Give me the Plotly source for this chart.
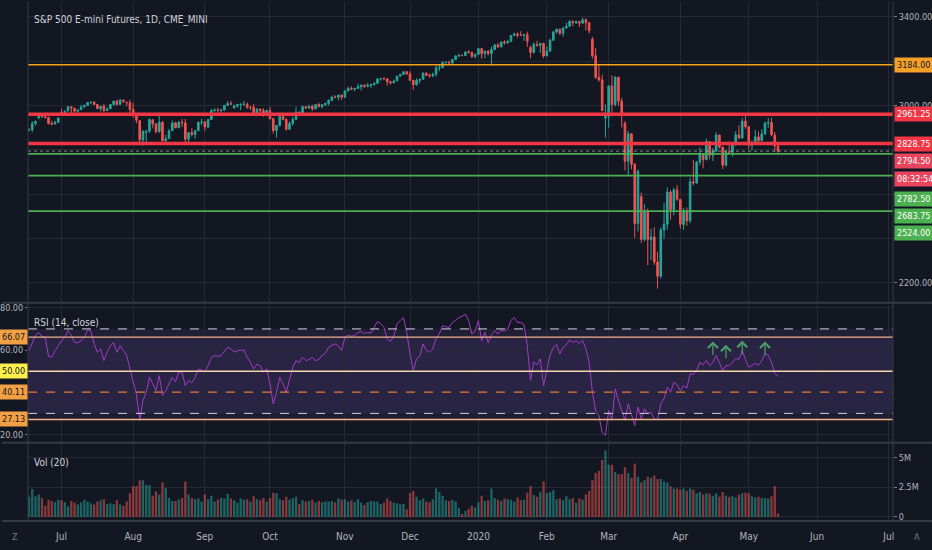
import pandas as pd
import plotly.graph_objects as go

# --- data (CME_MINI:ES1!, daily) ---
holidays = ["2019-07-04", "2019-09-02", "2019-11-28", "2019-12-25",
            "2020-01-01", "2020-01-20", "2020-02-17", "2020-04-10"]
dates = [d.strftime("%Y-%m-%d") for d in pd.bdate_range("2019-06-17", "2020-05-14")
         if d.strftime("%Y-%m-%d") not in holidays]

opens = [
    2889, 2891, 2920, 2945, 2954, 2950, 2946, 2920, 2917, 2925,  # jun
    2970, 2968, 2976, 2995, 2988, 2975, 2982, 2995, 3000, 3014, 3015, 3005, 2986, 2998, 2978, 2986, 3005, 3020, 3006, 3025, 3015, 3013,  # jul
    2982, 2953, 2932, 2845, 2880, 2885, 2936, 2918, 2883, 2925, 2841, 2851, 2887, 2922, 2900, 2925, 2922, 2848, 2878, 2869, 2887, 2924,  # aug
    2926, 2903, 2937, 2977, 2980, 2978, 2981, 3001, 3009, 2990, 2998, 3005, 3006, 3006, 2992, 2992, 2966, 2984, 2977, 2961,  # sep
    2978, 2941, 2887, 2910, 2951, 2937, 2893, 2919, 2938, 2970, 2966, 2995, 2989, 2997, 2985, 3005, 2995, 3004, 3010, 3023, 3039, 3037, 3047,  # oct
    3038, 3066, 3078, 3074, 3077, 3085, 3093, 3087, 3091, 3095, 3101, 3120, 3122, 3121, 3108, 3103, 3111, 3133, 3141, 3153,  # nov
    3143, 3114, 3094, 3114, 3119, 3146, 3136, 3134, 3142, 3170, 3172, 3194, 3195, 3192, 3208, 3223, 3227, 3226, 3242, 3240, 3222,  # dec
    3231, 3257, 3234, 3246, 3235, 3253, 3274, 3265, 3287, 3283, 3289, 3316, 3323, 3318, 3317, 3320, 3262, 3240, 3276, 3272, 3280,  # jan
    3224, 3246, 3295, 3332, 3345, 3326, 3350, 3358, 3380, 3374, 3379, 3372, 3387, 3374, 3300, 3225, 3128, 3116, 2944,  # feb
    2951, 3088, 3005, 3128, 3020, 2920, 2749, 2873, 2735, 2468, 2590, 2396, 2524, 2395, 2407, 2294, 2230, 2439, 2465, 2610, 2530, 2620,  # mar
    2577, 2464, 2525, 2480, 2656, 2651, 2745, 2783, 2757, 2838, 2776, 2795, 2867, 2813, 2731, 2791, 2790, 2829, 2868, 2854, 2930,  # apr
    2905, 2821, 2834, 2859, 2841, 2872, 2921, 2924, 2866, 2818,  # may
]
highs = [
    2898, 2930, 2934, 2958, 2964, 2955, 2950, 2932, 2931, 2946,
    2987, 2977, 2996, 2997, 2990, 2983, 3003, 3005, 3016, 3019, 3020, 3008, 3000, 3008, 2992, 3006, 3021, 3026, 3028, 3026, 3017, 3027,
    3013, 2957, 2933, 2890, 2890, 2942, 2940, 2920, 2968, 2930, 2868, 2895, 2933, 2927, 2931, 2940, 2940, 2880, 2898, 2890, 2930, 2941,
    2930, 2940, 2986, 2988, 2990, 2984, 3003, 3021, 3021, 3005, 3006, 3010, 3022, 3015, 2999, 3007, 2989, 2987, 2988, 2983,
    2994, 2945, 2912, 2953, 2962, 2944, 2929, 2948, 2994, 2975, 3000, 2998, 3004, 3004, 3007, 3013, 3005, 3013, 3028, 3045, 3047, 3050, 3050,
    3069, 3085, 3087, 3080, 3098, 3094, 3094, 3102, 3098, 3105, 3122, 3125, 3128, 3122, 3112, 3117, 3134, 3143, 3154, 3155,
    3155, 3115, 3123, 3120, 3150, 3150, 3145, 3148, 3180, 3185, 3200, 3200, 3203, 3210, 3228, 3233, 3230, 3243, 3250, 3243, 3234,
    3259, 3260, 3247, 3248, 3267, 3276, 3282, 3288, 3295, 3297, 3317, 3329, 3330, 3336, 3324, 3333, 3270, 3285, 3292, 3284, 3285,
    3268, 3302, 3337, 3347, 3346, 3353, 3375, 3385, 3384, 3383, 3382, 3397, 3394, 3375, 3310, 3260, 3182, 3140, 3005,
    3092, 3137, 3132, 3130, 3034, 2930, 2885, 2876, 2740, 2712, 2607, 2555, 2536, 2445, 2452, 2341, 2451, 2562, 2631, 2618, 2630, 2641,
    2578, 2538, 2540, 2675, 2754, 2750, 2811, 2785, 2851, 2839, 2808, 2880, 2870, 2815, 2800, 2838, 2832, 2885, 2911, 2945, 2963,
    2906, 2843, 2890, 2884, 2893, 2928, 2944, 2945, 2880, 2830,
]
lows = [
    2884, 2880, 2910, 2938, 2947, 2942, 2915, 2912, 2915, 2921,
    2960, 2960, 2973, 2966, 2970, 2965, 2980, 2990, 2998, 3008, 3002, 2985, 2973, 2972, 2975, 2984, 2999, 3000, 3003, 3012, 2997, 2955,
    2945, 2920, 2822, 2820, 2823, 2876, 2897, 2873, 2877, 2839, 2825, 2849, 2886, 2898, 2898, 2903, 2834, 2830, 2860, 2850, 2884, 2912,
    2886, 2898, 2936, 2973, 2968, 2960, 2975, 2998, 3002, 2985, 2991, 2980, 3000, 2985, 2980, 2957, 2955, 2963, 2950, 2960,
    2937, 2874, 2855, 2906, 2934, 2888, 2890, 2910, 2936, 2960, 2963, 2985, 2985, 2975, 2983, 2992, 2988, 2998, 3000, 3020, 3033, 3023, 3025,
    3035, 3065, 3070, 3065, 3075, 3067, 3080, 3082, 3080, 3090, 3098, 3112, 3115, 3090, 3094, 3100, 3110, 3130, 3138, 3138,
    3110, 3070, 3090, 3100, 3117, 3133, 3126, 3128, 3130, 3155, 3168, 3190, 3190, 3188, 3206, 3220, 3222, 3225, 3235, 3215, 3212,
    3228, 3211, 3213, 3226, 3181, 3250, 3260, 3263, 3275, 3280, 3288, 3314, 3307, 3315, 3292, 3265, 3214, 3235, 3265, 3237, 3214,
    3222, 3243, 3292, 3325, 3318, 3310, 3347, 3356, 3358, 3368, 3355, 3368, 3340, 3325, 3212, 3120, 3108, 2974, 2855,
    2900, 2965, 2996, 2998, 2901, 2707, 2687, 2713, 2403, 2432, 2380, 2387, 2280, 2303, 2281, 2174, 2220, 2400, 2440, 2485, 2505, 2570,
    2445, 2440, 2457, 2470, 2640, 2646, 2731, 2717, 2752, 2758, 2750, 2790, 2806, 2713, 2725, 2779, 2770, 2820, 2848, 2850, 2895,
    2804, 2797, 2828, 2837, 2840, 2868, 2900, 2862, 2793, 2787,
]
closes = [
    2891, 2919, 2928, 2953, 2950, 2946, 2919, 2916, 2925, 2944,
    2968, 2975, 2995, 2990, 2975, 2980, 2993, 3000, 3014, 3015, 3005, 2986, 2996, 2977, 2985, 3005, 3020, 3005, 3026, 3020, 3013, 2982,
    2955, 2934, 2846, 2884, 2884, 2937, 2918, 2883, 2925, 2841, 2850, 2886, 2922, 2900, 2925, 2922, 2848, 2878, 2869, 2887, 2924, 2926,
    2903, 2937, 2977, 2980, 2978, 2981, 3001, 3009, 3007, 2998, 3005, 3006, 3006, 2992, 2992, 2966, 2984, 2977, 2961, 2978,
    2941, 2887, 2910, 2951, 2937, 2893, 2919, 2938, 2970, 2966, 2995, 2989, 2997, 2985, 3005, 2995, 3004, 3010, 3023, 3039, 3037, 3047, 3038,
    3066, 3078, 3074, 3077, 3085, 3093, 3087, 3091, 3095, 3101, 3120, 3122, 3121, 3108, 3103, 3111, 3133, 3141, 3153, 3143,
    3114, 3094, 3114, 3119, 3146, 3136, 3134, 3142, 3170, 3172, 3194, 3195, 3192, 3208, 3223, 3227, 3226, 3242, 3240, 3222, 3231,
    3257, 3234, 3246, 3235, 3253, 3274, 3265, 3287, 3283, 3289, 3316, 3323, 3318, 3317, 3320, 3290, 3240, 3276, 3272, 3280, 3224,
    3246, 3295, 3332, 3345, 3326, 3350, 3358, 3380, 3374, 3379, 3372, 3387, 3374, 3338, 3225, 3128, 3116, 2978, 2951,
    3088, 3005, 3128, 3020, 2958, 2749, 2873, 2735, 2468, 2704, 2396, 2524, 2395, 2407, 2294, 2230, 2439, 2465, 2610, 2530, 2620, 2577,
    2464, 2525, 2480, 2656, 2651, 2745, 2783, 2757, 2838, 2776, 2795, 2867, 2813, 2731, 2791, 2790, 2829, 2868, 2854, 2930, 2905,
    2821, 2834, 2859, 2841, 2872, 2921, 2924, 2869, 2818, 2794.5,
]
# volume, millions of contracts
volume_m = [
    1.70, 2.35, 1.75, 1.90, 1.60, 0.95, 1.45, 1.35, 1.25, 1.45,
    1.40, 1.25, 0.90, 1.35, 1.20, 1.05, 1.25, 1.45, 1.30, 1.15, 1.05, 1.30, 1.40, 1.50, 1.10, 1.15, 1.10, 1.40, 1.05, 0.95, 1.30, 2.00,
    2.60, 2.60, 3.10, 3.10, 2.70, 2.70, 1.80, 2.15, 1.90, 2.90, 2.45, 1.60, 1.35, 1.35, 1.50, 1.60, 3.00, 1.90, 1.60, 1.50, 1.55, 1.30,
    1.90, 1.50, 1.80, 1.30, 1.45, 1.60, 1.55, 1.95, 1.55, 1.40, 1.20, 1.55, 1.45, 1.50, 1.30, 1.75, 1.50, 1.40, 1.60, 1.30,
    1.60, 2.05, 2.00, 1.50, 1.40, 1.70, 1.45, 1.60, 1.70, 1.10, 1.40, 1.30, 1.35, 1.45, 1.20, 1.35, 1.25, 1.30, 1.30, 1.35, 1.25, 1.55, 1.45,
    1.50, 1.30, 1.40, 1.25, 1.50, 1.20, 1.00, 1.25, 1.35, 1.30, 1.30, 1.10, 1.20, 1.55, 1.35, 1.20, 1.15, 1.05, 1.10, 0.65,
    2.00, 2.20, 1.70, 1.40, 1.55, 1.30, 1.25, 1.50, 2.40, 2.10, 1.80, 1.40, 1.35, 1.45, 1.30, 0.75, 0.25, 0.50, 0.70, 0.95, 0.80,
    1.25, 1.80, 1.35, 1.40, 2.40, 1.60, 1.45, 1.35, 1.55, 1.50, 1.45, 1.30, 1.65, 1.40, 1.45, 2.05, 2.60, 1.85, 1.70, 2.10, 3.00,
    2.00, 2.10, 2.25, 1.50, 1.55, 1.40, 1.75, 1.50, 1.60, 1.20, 1.55, 1.45, 1.90, 2.20, 3.10, 3.70, 3.90, 4.80, 5.60,
    4.40, 4.40, 3.80, 3.60, 3.60, 4.20, 3.70, 3.30, 4.50, 3.40, 2.90, 3.10, 3.40, 3.30, 3.50, 3.20, 3.20, 3.00, 2.90, 2.60, 2.40, 2.40,
    2.30, 2.40, 2.20, 2.40, 2.30, 2.00, 2.10, 1.90, 2.00, 1.95, 1.80, 2.00, 1.70, 2.10, 1.80, 1.70, 1.75, 1.65, 1.90, 2.00, 2.05,
    2.00, 1.75, 1.65, 1.70, 1.60, 1.60, 1.55, 1.75, 2.60, 0.30,
]
rsi = [
    59.7, 63.0, 67.0, 68.3, 66.5, 66.0, 57.0, 56.6, 59.7, 62.0,
    64.4, 66.0, 69.2, 67.0, 63.6, 63.5, 64.4, 66.0, 69.5, 69.0, 63.0, 58.9, 60.6, 55.0, 59.0, 62.0, 63.6, 58.9, 62.1, 59.7, 57.5, 51.0,
    45.0, 39.0, 26.7, 36.1, 40.0, 47.1, 44.0, 40.8, 47.9, 38.5, 40.8, 44.0, 47.1, 45.0, 49.5, 49.5, 43.2, 45.6, 44.5, 47.0, 51.0, 50.5,
    49.5, 52.6, 56.5, 57.4, 57.0, 57.4, 59.5, 61.3, 60.5, 59.0, 59.7, 59.7, 60.0, 56.5, 54.2, 51.0, 53.4, 52.5, 49.5, 51.2,
    44.0, 34.6, 40.0, 47.1, 44.0, 40.0, 46.0, 51.8, 55.0, 54.0, 56.6, 55.0, 55.5, 56.6, 55.0, 55.5, 57.4, 58.5, 61.3, 62.0, 62.9, 62.0, 59.7,
    66.0, 67.0, 66.5, 67.0, 68.3, 68.8, 67.8, 68.3, 68.0, 70.5, 73.5, 72.5, 70.7, 65.2, 64.0, 66.5, 72.3, 74.0, 75.4, 68.3,
    58.0, 50.3, 55.8, 57.0, 62.9, 59.7, 59.0, 60.5, 65.5, 67.6, 71.5, 71.0, 70.7, 73.1, 74.0, 75.4, 76.0, 77.0, 74.0, 67.6, 69.0,
    73.9, 64.4, 68.3, 63.5, 67.0, 69.2, 67.6, 69.5, 69.0, 69.9, 74.0, 75.4, 73.1, 73.0, 72.0, 62.0, 45.6, 54.2, 53.0, 55.8, 43.2,
    50.0, 57.5, 61.3, 62.5, 58.2, 61.3, 62.5, 64.8, 63.5, 64.4, 63.0, 64.5, 60.5, 54.2, 40.0, 31.0, 29.0, 21.0, 19.6,
    31.4, 26.7, 41.6, 36.1, 31.4, 26.7, 34.6, 29.9, 24.3, 33.0, 27.5, 32.2, 29.9, 30.5, 27.5, 27.0, 34.6, 37.0, 42.4, 40.0, 44.8, 43.5,
    40.8, 43.2, 42.0, 48.7, 48.5, 50.3, 54.2, 53.0, 55.0, 52.5, 54.2, 57.4, 54.2, 50.3, 52.6, 52.6, 54.2, 56.0, 55.5, 59.7, 55.5,
    51.8, 52.6, 53.8, 52.8, 55.0, 58.2, 57.5, 54.0, 49.0, 47.5,
]
assert len(dates) == len(opens) == len(highs) == len(lows) == len(closes) == len(volume_m) == len(rsi)

# horizontal levels drawn on the chart
level_orange = 3184.00
levels_red = [2961.25, 2828.75]
levels_green = [2782.50, 2683.75, 2524.00]
last_price = 2794.50
countdown = "08:32:54"
rsi_bands = [70, 30]
rsi_lines = [66.07, 50.00, 40.11, 27.13]

# green up-arrows above the RSI in april/may
arrow_dates = ["2020-04-16", "2020-04-22", "2020-04-29", "2020-05-08"]
arrow_rsi = [64.1, 62.5, 64.4, 64.1]

month_ticks = ["2019-07-01", "2019-08-01", "2019-09-03", "2019-10-01", "2019-11-01", "2019-12-02",
               "2020-01-02", "2020-02-03", "2020-03-02", "2020-04-01", "2020-05-01", "2020-06-01", "2020-07-01"]
month_labels = ["Jul", "Aug", "Sep", "Oct", "Nov", "Dec", "2020", "Feb", "Mar", "Apr", "May", "Jun", "Jul"]

price_ticks = [2200, 2400, 2600, 2800, 3000, 3200, 3400]
price_ticktext = ["2200.00", "", "", "", "3000.00", "", "3400.00"]  # the rest sit under the coloured labels
rsi_ticks = [20, 40, 60, 80]
rsi_ticktext = ["20.00", "", "60.00", "80.00"]

BG = "#131722"
GRID = "#262a35"
TXT = "#b2b5be"
UP = "#26a69a"
DOWN = "#ef5350"
FONT = "DejaVu Sans Condensed, Liberation Sans Narrow, Roboto, sans-serif"

vol_colors = ["rgba(38,166,154,0.55)" if c >= o else "rgba(239,83,80,0.55)" for o, c in zip(opens, closes)]

fig = go.Figure()
fig.add_trace(go.Candlestick(
    x=dates, open=opens, high=highs, low=lows, close=closes,
    increasing=dict(line=dict(color=UP, width=1), fillcolor=UP),
    decreasing=dict(line=dict(color=DOWN, width=1), fillcolor=DOWN),
    whiskerwidth=0, xaxis="x", yaxis="y", hoverinfo="skip",
))
fig.add_trace(go.Scatter(
    x=dates, y=rsi, mode="lines", line=dict(color="#a23cc4", width=1),
    xaxis="x", yaxis="y2", hoverinfo="skip",
))
fig.add_trace(go.Bar(
    x=dates, y=volume_m, marker=dict(color=vol_colors, line=dict(width=0)),
    xaxis="x", yaxis="y3", hoverinfo="skip",
))

shapes = []
# rsi background bands
shapes.append(dict(type="rect", xref="paper", x0=0, x1=1, yref="y2", y0=rsi_bands[1], y1=rsi_bands[0],
                   fillcolor="rgba(126,87,194,0.13)", line=dict(width=0), layer="below"))
shapes.append(dict(type="rect", xref="paper", x0=0, x1=1, yref="y2", y0=rsi_lines[3], y1=rsi_lines[0],
                   fillcolor="rgba(126,87,194,0.10)", line=dict(width=0), layer="below"))
for b in rsi_bands:
    shapes.append(dict(type="line", xref="paper", x0=0, x1=1, yref="y2", y0=b, y1=b,
                       line=dict(color="#d1d4dc", width=1, dash="dash")))
for v, col, dash, w in zip(rsi_lines, ["#f2b28a", "#f7d7a8", "#e8763a", "#f2b28a"],
                           ["solid", "solid", "dash", "solid"], [1.2, 1.5, 1.2, 1.5]):
    shapes.append(dict(type="line", xref="paper", x0=0, x1=1, yref="y2", y0=v, y1=v,
                       line=dict(color=col, width=w, dash=dash)))

# price levels
shapes.append(dict(type="line", xref="paper", x0=0, x1=1, yref="y", y0=level_orange, y1=level_orange,
                   line=dict(color="#f7a21b", width=1.5)))
for lv in levels_green:
    shapes.append(dict(type="line", xref="paper", x0=0, x1=1, yref="y", y0=lv, y1=lv,
                       line=dict(color="#4caf50", width=1.8)))
shapes.append(dict(type="line", xref="paper", x0=0, x1=1, yref="y", y0=last_price, y1=last_price,
                   line=dict(color="rgba(178,181,190,0.7)", width=1, dash="dot")))
for lv in levels_red:
    shapes.append(dict(type="line", xref="paper", x0=0, x1=1, yref="y", y0=lv, y1=lv,
                       line=dict(color="#f23645", width=3.5)))

# pane borders
for yp in [0.4203, 0.1507, 0.0]:
    shapes.append(dict(type="line", xref="paper", x0=-0.03, x1=1.045, yref="paper", y0=yp, y1=yp,
                       line=dict(color="#363a45", width=2)))
for xp in [0, 1]:
    shapes.append(dict(type="line", xref="paper", x0=xp, x1=xp, yref="paper", y0=0, y1=1,
                       line=dict(color="#363a45", width=1)))

ann = []


def price_label(y, text, bg, fg="#ffffff", shift=0, yref="y", left=False):
    ann.append(dict(xref="paper", x=0 if left else 1, xanchor="right" if left else "left",
                    xshift=0 if left else 1, yref=yref, y=y, yshift=shift, yanchor="middle",
                    text=text, showarrow=False, bgcolor=bg, borderpad=2,
                    font=dict(family=FONT, size=9, color=fg)))


price_label(level_orange, f"{level_orange:.2f}", "#f5a127", fg="#131722")
for lv in levels_red:
    price_label(lv, f"{lv:.2f}", "#f23645")
price_label(last_price, f"{last_price:.2f}", "#e9455e", shift=-10)
price_label(last_price, countdown, "#e9455e", shift=-28)
for lv, sh in zip(levels_green, [-45, -40, -22]):
    price_label(lv, f"{lv:.2f}", "#4caf50", shift=sh)
for v, bg in zip(rsi_lines, ["#f2a044", "#fff04d", "#f2a044", "#f2a044"]):
    price_label(v, f"{v:.2f}", bg, fg="#131722", yref="y2", left=True)

for d, v in zip(arrow_dates, arrow_rsi):
    ann.append(dict(xref="x", yref="y2", x=d, y=v, ax=0, ay=15, text="", showarrow=True,
                    arrowhead=4, arrowsize=1.6, arrowwidth=1.2, arrowcolor="#4a9f6b"))

ann.append(dict(xref="paper", yref="paper", x=0, y=1, xshift=4, yshift=-18, xanchor="left", yanchor="middle",
                text="S&P 500 E-mini Futures, 1D, CME_MINI", showarrow=False,
                font=dict(family=FONT, size=10, color="#d1d4dc")))
ann.append(dict(xref="paper", yref="paper", x=0, y=0.4165, xshift=4, yshift=-18, xanchor="left", yanchor="middle",
                text="RSI (14, close)", showarrow=False, font=dict(family=FONT, size=10, color="#d1d4dc")))
ann.append(dict(xref="paper", yref="paper", x=0, y=0.1478, xshift=4, yshift=-18, xanchor="left", yanchor="middle",
                text="Vol (20)", showarrow=False, font=dict(family=FONT, size=10, color="#d1d4dc")))
ann.append(dict(xref="paper", yref="paper", x=0, y=0, xshift=-13, yshift=-16, xanchor="center", yanchor="middle",
                text="Z", showarrow=False, font=dict(family=FONT, size=9, color="#787b86")))
ann.append(dict(xref="paper", yref="paper", x=1, y=0, xshift=24, yshift=-16, xanchor="center", yanchor="middle",
                text="A", showarrow=False, font=dict(family=FONT, size=9, color="#787b86")))

axis_font = dict(family=FONT, size=9, color=TXT)
fig.update_layout(
    width=932, height=550,
    margin=dict(l=26, r=36, t=0, b=29),
    paper_bgcolor=BG, plot_bgcolor=BG,
    showlegend=False, bargap=0.3,
    shapes=shapes, annotations=ann,
    xaxis=dict(type="date", anchor="y3",
               range=["2019-06-14 16:48", "2020-07-02 07:12"],
               rangebreaks=[dict(bounds=["sat", "mon"]), dict(values=holidays)],
               rangeslider=dict(visible=False),
               tickvals=month_ticks, ticktext=month_labels,
               showgrid=True, gridcolor=GRID, zeroline=False,
               ticks="outside", ticklen=6, tickcolor=BG, tickfont=dict(family=FONT, size=10, color=TXT)),
    yaxis=dict(domain=[0.4223, 1], range=[2114.6, 3467.4], side="right", anchor="x",
               tickvals=price_ticks, ticktext=price_ticktext,
               showgrid=True, gridcolor=GRID, zeroline=False,
               ticks="outside", ticklen=3, tickcolor="#787b86", tickfont=axis_font),
    yaxis2=dict(domain=[0.1536, 0.4165], range=[16.8, 81.4], side="left", anchor="x",
                tickvals=rsi_ticks, ticktext=rsi_ticktext,
                showgrid=True, gridcolor=GRID, zeroline=False,
                ticks="outside", ticklen=2, tickcolor="#787b86", tickfont=dict(family=FONT, size=9, color=TXT)),
    yaxis3=dict(domain=[0, 0.1478], range=[-0.34, 6.13], side="right", anchor="x",
                tickvals=[0, 2.5, 5], ticktext=["0", "2.5M", "5M"],
                showgrid=True, gridcolor=GRID, zeroline=False,
                ticks="outside", ticklen=3, tickcolor="#787b86", tickfont=axis_font),
)

fig.write_html("out.html", config={"displayModeBar": False},
               post_script="document.body.style.margin='0px';document.body.style.background='#131722';")
